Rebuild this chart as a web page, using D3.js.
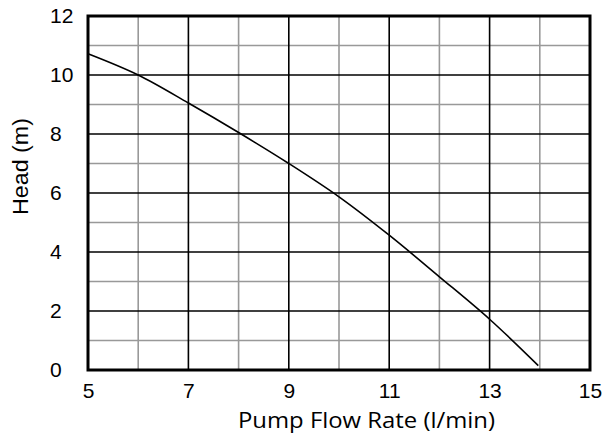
<!DOCTYPE html>
<html><head><meta charset="utf-8">
<script src="https://cdn.jsdelivr.net/npm/d3@7"></script>
<style>body{margin:0;background:#fff}</style>
</head><body><svg id="c" width="610" height="437"></svg>
<script>
const flow = [5, 6, 7, 8, 9, 10, 11, 12, 13, 13.97];
const head = [10.72, 10.0, 9.05, 8.05, 7.0, 5.87, 4.57, 3.16, 1.72, 0.15];
const xTicks = [5, 7, 9, 11, 13, 15];
const yTicks = [0, 2, 4, 6, 8, 10, 12];
const xMinor = [6, 8, 10, 12, 14];
const yMinor = [1, 3, 5, 7, 9, 11];

const svg = d3.select("#c");
const m = {l: 88, r: 20, t: 16, b: 67};
const W = 610, H = 437;
const x = d3.scaleLinear().domain([5, 15]).range([m.l, W - m.r]);
const y = d3.scaleLinear().domain([0, 12]).range([H - m.b, m.t]);

const g = svg.append("g");
g.selectAll(".vx").data(xMinor).join("line")
  .attr("x1", d => x(d)).attr("x2", d => x(d)).attr("y1", y(0)).attr("y2", y(12))
  .attr("stroke", "#999").attr("stroke-width", 1.6);
g.selectAll(".hy").data(yMinor).join("line")
  .attr("y1", d => y(d)).attr("y2", d => y(d)).attr("x1", x(5)).attr("x2", x(15))
  .attr("stroke", "#999").attr("stroke-width", 1.6);
g.selectAll(".vmx").data(xTicks).join("line")
  .attr("x1", d => x(d)).attr("x2", d => x(d)).attr("y1", y(0)).attr("y2", y(12))
  .attr("stroke", "#000").attr("stroke-width", 1.6);
g.selectAll(".hmy").data(yTicks).join("line")
  .attr("y1", d => y(d)).attr("y2", d => y(d)).attr("x1", x(5)).attr("x2", x(15))
  .attr("stroke", "#000").attr("stroke-width", 1.6);
g.append("rect").attr("x", x(5)).attr("y", y(12)).attr("width", x(15) - x(5)).attr("height", y(0) - y(12))
  .attr("fill", "none").attr("stroke", "#000").attr("stroke-width", 3);

const pts = flow.map((f, i) => [f, head[i]]);
g.append("path").datum(pts)
  .attr("d", d3.line().x(d => x(d[0])).y(d => y(d[1])).curve(d3.curveCatmullRom.alpha(0.5)))
  .attr("fill", "none").attr("stroke", "#000").attr("stroke-width", 1.6);

const font = "'Liberation Sans', Arial, sans-serif";
const xa = d3.axisBottom(x).tickValues(xTicks).tickSize(0).tickPadding(13).tickFormat(d3.format("d"));
const ya = d3.axisLeft(y).tickValues(yTicks).tickSize(0).tickFormat(d3.format("d"));
const gx = svg.append("g").attr("transform", `translate(0,${y(0)})`).call(xa);
const gy = svg.append("g").attr("transform", `translate(${x(5)},0)`).call(ya);
[gx, gy].forEach(a => {
  a.select(".domain").remove();
  a.selectAll("text").attr("font-family", font).attr("font-size", 21).attr("fill", "#000");
});
gy.selectAll("text").attr("x", 50 - x(5)).attr("text-anchor", "start");

svg.append("text").attr("x", 238).attr("y", 428)
  .attr("font-family", "'Open Sans', sans-serif").attr("font-size", 21.5)
  .attr("textLength", 257).attr("lengthAdjust", "spacingAndGlyphs")
  .text("Pump Flow Rate (l/min)");
svg.append("text").attr("transform", `translate(28,215) rotate(-90)`)
  .attr("text-anchor", "start").attr("font-family", font).attr("font-size", 21.5)
  .attr("textLength", 97).attr("lengthAdjust", "spacingAndGlyphs")
  .text("Head (m)");
</script></body></html>
